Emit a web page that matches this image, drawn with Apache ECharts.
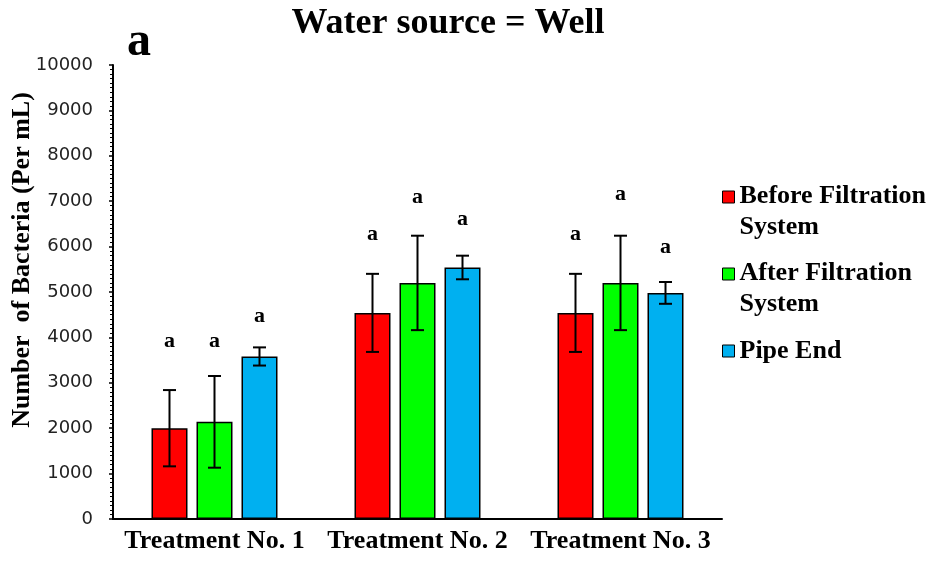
<!DOCTYPE html>
<html><head><meta charset="utf-8">
<script src="https://cdn.jsdelivr.net/npm/echarts@6/dist/echarts.min.js"></script>
<style>html,body{margin:0;padding:0;background:#fff}#c{width:933px;height:567px}</style>
</head><body><div id="c"></div>
<script>
const categories = ['Treatment No. 1', 'Treatment No. 2', 'Treatment No. 3'];
const seriesNames = ['Before Filtration System', 'After Filtration System', 'Pipe End'];
const seriesColors = ['#FF0000', '#00FF00', '#00B0F0'];
const beforeValues = [2000, 4540, 4540];
const afterValues = [2140, 5200, 5200];
const pipeValues = [3580, 5540, 4980];
const beforeErrors = [840, 860, 860];
const afterErrors = [1010, 1040, 1040];
const pipeErrors = [200, 260, 240];
const beforeLetters = ['a', 'a', 'a'];
const afterLetters = ['a', 'a', 'a'];
const pipeLetters = ['a', 'a', 'a'];
const beforeLetterY = [3880, 6220, 6220];
const afterLetterY = [3880, 7050, 7100];
const pipeLetterY = [4430, 6560, 5950];
const yMin = 0, yMax = 10000, yInterval = 1000;

const BAR_W = 36, BAR_GAP = 9;
const SERIF = '"Liberation Serif", "Times New Roman", serif';

const values = [beforeValues, afterValues, pipeValues];
const errors = [beforeErrors, afterErrors, pipeErrors];
const letters = [beforeLetters, afterLetters, pipeLetters];
const letterY = [beforeLetterY, afterLetterY, pipeLetterY];

const barSeries = values.map((vals, s) => ({
  type: 'bar', name: seriesNames[s], data: vals,
  barWidth: BAR_W, barGap: (BAR_GAP / BAR_W * 100) + '%',
  itemStyle: { color: seriesColors[s], borderColor: '#000', borderWidth: 1.5 },
  z: 2
}));

const errSeries = values.map((vals, s) => ({
  type: 'custom', name: seriesNames[s] + ' error', z: 5,
  data: vals.map((v, i) => [i, v - errors[s][i], v + errors[s][i], letterY[s][i]]),
  encode: { x: 0, y: [1, 2] },
  renderItem: function (params, api) {
    const ci = api.value(0);
    const top = api.coord([ci, api.value(2)]);
    const bot = api.coord([ci, api.value(1)]);
    const lab = api.coord([ci, api.value(3)]);
    const x = top[0] + (s - 1) * (BAR_W + BAR_GAP);
    const cap = 6.5;
    const ls = { stroke: '#000', lineWidth: 2 };
    return { type: 'group', children: [
      { type: 'line', shape: { x1: x, y1: top[1], x2: x, y2: bot[1] }, style: ls },
      { type: 'line', shape: { x1: x - cap, y1: top[1], x2: x + cap, y2: top[1] }, style: ls },
      { type: 'line', shape: { x1: x - cap, y1: bot[1], x2: x + cap, y2: bot[1] }, style: ls },
      { type: 'text', x: x, y: lab[1] - 2, style: { text: letters[s][params.dataIndex], font: 'bold 22px ' + SERIF, fill: '#000', align: 'center', verticalAlign: 'middle', textAlign: 'center', textVerticalAlign: 'middle' } }
    ] };
  }
}));

const legendText = { fontFamily: SERIF, fontWeight: 'bold', fontSize: 26, color: '#000', lineHeight: 31 };
const twoLineIcon = 'path://M0,0L12,0L12,12L0,12Z M0,41L0,41';
function mkLegend(i, top, twoLine) {
  return {
    left: 722, top: top, orient: 'vertical', padding: 0,
    itemWidth: 12, itemHeight: twoLine ? 41 : 12, itemGap: 0,
    icon: twoLine ? twoLineIcon : 'rect',
    data: [seriesNames[i]],
    formatter: n => n.replace(' System', '\nSystem'),
    textStyle: legendText,
    itemStyle: { borderColor: '#000', borderWidth: 1 },
    selectedMode: false
  };
}

const chart = echarts.init(document.getElementById('c'), null, { renderer: 'canvas' });
chart.setOption({
  backgroundColor: '#fff',
  animation: false,
  graphic: [{
    type: 'text', x: 448, y: 24,
    style: { text: 'Water source = Well', font: 'bold 36px ' + SERIF, fill: '#000', align: 'center', verticalAlign: 'middle', textAlign: 'center', textVerticalAlign: 'middle' }
  }, {
    type: 'text', x: 127, y: 43,
    style: { text: 'a', font: 'bold 48px ' + SERIF, fill: '#000', verticalAlign: 'middle', textVerticalAlign: 'middle' }
  }],
  legend: [mkLegend(0, 180.5, true), mkLegend(1, 257.5, true), mkLegend(2, 335.5, false)],
  grid: { left: 113, right: 211, top: 65, bottom: 48, containLabel: false, outerBoundsMode: 'none' },
  xAxis: {
    type: 'category', data: categories,
    axisLine: { lineStyle: { color: '#000', width: 2 } },
    axisTick: { alignWithLabel: true, length: 5, lineStyle: { color: '#000', width: 2 } },
    axisLabel: { interval: 0, hideOverlap: false, fontFamily: SERIF, fontWeight: 'bold', fontSize: 26, color: '#000', margin: 9 }
  },
  yAxis: {
    type: 'value', min: yMin, max: yMax, interval: yInterval,
    name: 'Number  of Bacteria (Per mL)', nameLocation: 'middle', nameGap: 78, nameMoveOverlap: false,
    nameTextStyle: { fontFamily: SERIF, fontWeight: 'bold', fontSize: 26, color: '#000', padding: [0, 0, 0, 64] },
    axisLine: { show: true, lineStyle: { color: '#000', width: 2 } },
    axisTick: { show: true, length: 4, lineStyle: { color: '#000', width: 1.5 } },
    minorTick: { show: true, splitNumber: 10, length: 3, lineStyle: { color: '#000', width: 1 } },
    splitLine: { show: false },
    axisLabel: { formatter: v => String(v), fontFamily: '"DejaVu Sans", sans-serif', fontSize: 18, color: '#222', margin: 20 }
  },
  series: barSeries.concat(errSeries)
});
</script></body></html>
